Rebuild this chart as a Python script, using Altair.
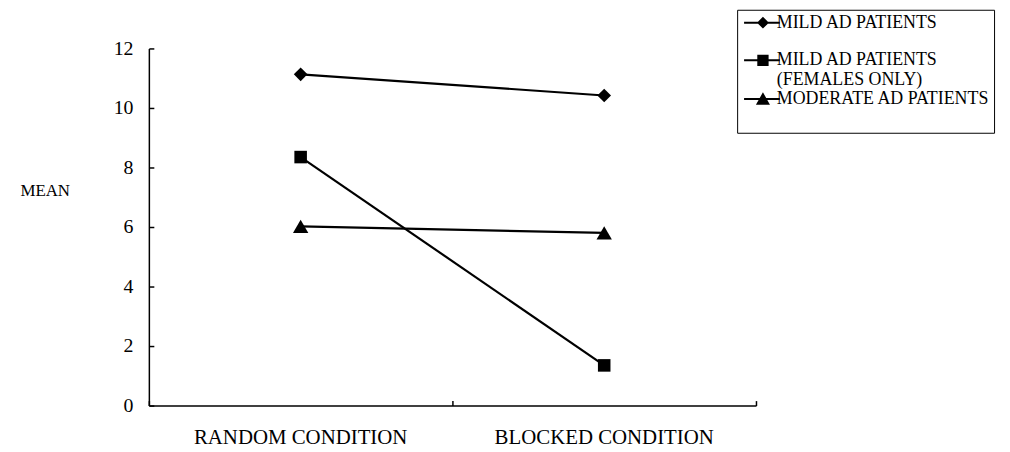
import altair as alt
import pandas as pd

conditions = ["RANDOM CONDITION", "BLOCKED CONDITION"]
series = ["MILD AD PATIENTS", "MILD AD PATIENTS|(FEMALES ONLY)", "MODERATE AD PATIENTS"]
mild = [11.13, 10.42]
mild_females = [8.35, 1.35]
moderate = [6.02, 5.80]
y_ticks = [0, 2, 4, 6, 8, 10, 12]

rows = []
for s, vals in zip(series, [mild, mild_females, moderate]):
    for c, v in zip(conditions, vals):
        rows.append({"condition": c, "series": s, "mean": v})
df = pd.DataFrame(rows)

FONT = "Liberation Serif"
plot_shapes = ["diamond", "square", "triangle-up"]
plot_sizes = [190, 160, 240]
# legend symbols: a short bar with the marker in its middle
legend_paths = [
    "M-1,-0.17H5V0.17H-1ZM2.17,-1L3.17,0L2.17,1L1.17,0Z",
    "M-1,-0.17H5V0.17H-1ZM1.22,-0.95H3.12V0.95H1.22Z",
    "M-1,-0.17H5V0.17H-1ZM2.17,-1.15L3.35,0.95L0.99,0.95Z",
]

x_scale = alt.Scale(type="band", domain=conditions, paddingInner=0, paddingOuter=0)
y_scale = alt.Scale(domain=[0, 12], nice=False, zero=True)

x_enc = alt.X(
    "condition:N",
    sort=conditions,
    scale=x_scale,
    axis=alt.Axis(
        title=None, labelAngle=0, ticks=False, labelPadding=21, labelLimit=0,
        labelFont=FONT, labelFontSize=21, labelColor="black",
        domainColor="black", domainWidth=1.5,
    ),
)
y_enc = alt.Y(
    "mean:Q",
    scale=y_scale,
    axis=alt.Axis(
        values=y_ticks, title="MEAN", titleAngle=0, titleX=-130, titleY=143,
        titleAlign="left", titleBaseline="middle", titleFont=FONT, titleFontSize=17,
        titleFontWeight="normal", titleColor="black",
        ticks=False, labelPadding=16, labelFont=FONT, labelFontSize=20, labelColor="black",
        domainColor="black", domainWidth=1.5, grid=False,
    ),
)

base = alt.Chart(df)

lines = base.mark_line(color="black", strokeWidth=2.2).encode(
    x=x_enc, y=y_enc, detail="series:N"
)

point_layers = [
    base.transform_filter(alt.datum.series == s)
    .mark_point(filled=True, color="black", opacity=1, shape=shp, size=sz)
    .encode(x=x_enc, y=y_enc)
    for s, shp, sz in zip(series, plot_shapes, plot_sizes)
]

legend_layer = base.transform_filter("false").mark_point(
    filled=True, color="black", opacity=1
).encode(
    x=x_enc,
    y=y_enc,
    shape=alt.Shape(
        "series:N",
        scale=alt.Scale(domain=series, range=legend_paths),
        legend=alt.Legend(
            orient="none", legendX=593, legendY=-39,
            title=" ", titleOrient="bottom", titleFontSize=12, titlePadding=10,
            strokeColor="black", padding=4, rowPadding=0,
            labelFont=FONT, labelFontSize=18, labelColor="black", labelLimit=0,
            labelOffset=18, symbolSize=144, symbolFillColor="black", symbolOpacity=1,
            labelExpr=(
                "datum.label == 'MILD AD PATIENTS' ? [datum.label, ''] : "
                "split(datum.label, '|')"
            ),
        ),
    ),
)

main = alt.layer(lines, *point_layers, legend_layer)

# inward tick marks: axes shifted inside the plot by their tick length
tick_layer = base.transform_filter("false").mark_point(opacity=0).encode(
    x=alt.X(
        "condition:N", sort=conditions, scale=x_scale,
        axis=alt.Axis(
            orient="bottom", offset=-5, title=None, labels=False, domain=False,
            tickBand="extent", tickSize=5, tickColor="black", tickWidth=1.5,
        ),
    ),
    y=alt.Y(
        "mean:Q", scale=y_scale,
        axis=alt.Axis(
            orient="left", offset=-5, values=y_ticks, title=None, labels=False,
            domain=False, tickSize=5, tickColor="black", tickWidth=1.5, grid=False,
        ),
    ),
)

chart = (
    alt.layer(main, tick_layer)
    .resolve_scale(x="independent", y="independent")
    .properties(
        width=612,
        height=360,
        autosize=alt.AutoSizeParams(type="none"),
        padding={"left": 142, "top": 39, "right": 248, "bottom": 41},
        background="white",
    )
    .configure_view(stroke=None)
)

chart.save("out.html", embed_options={"renderer": "svg", "actions": False})
